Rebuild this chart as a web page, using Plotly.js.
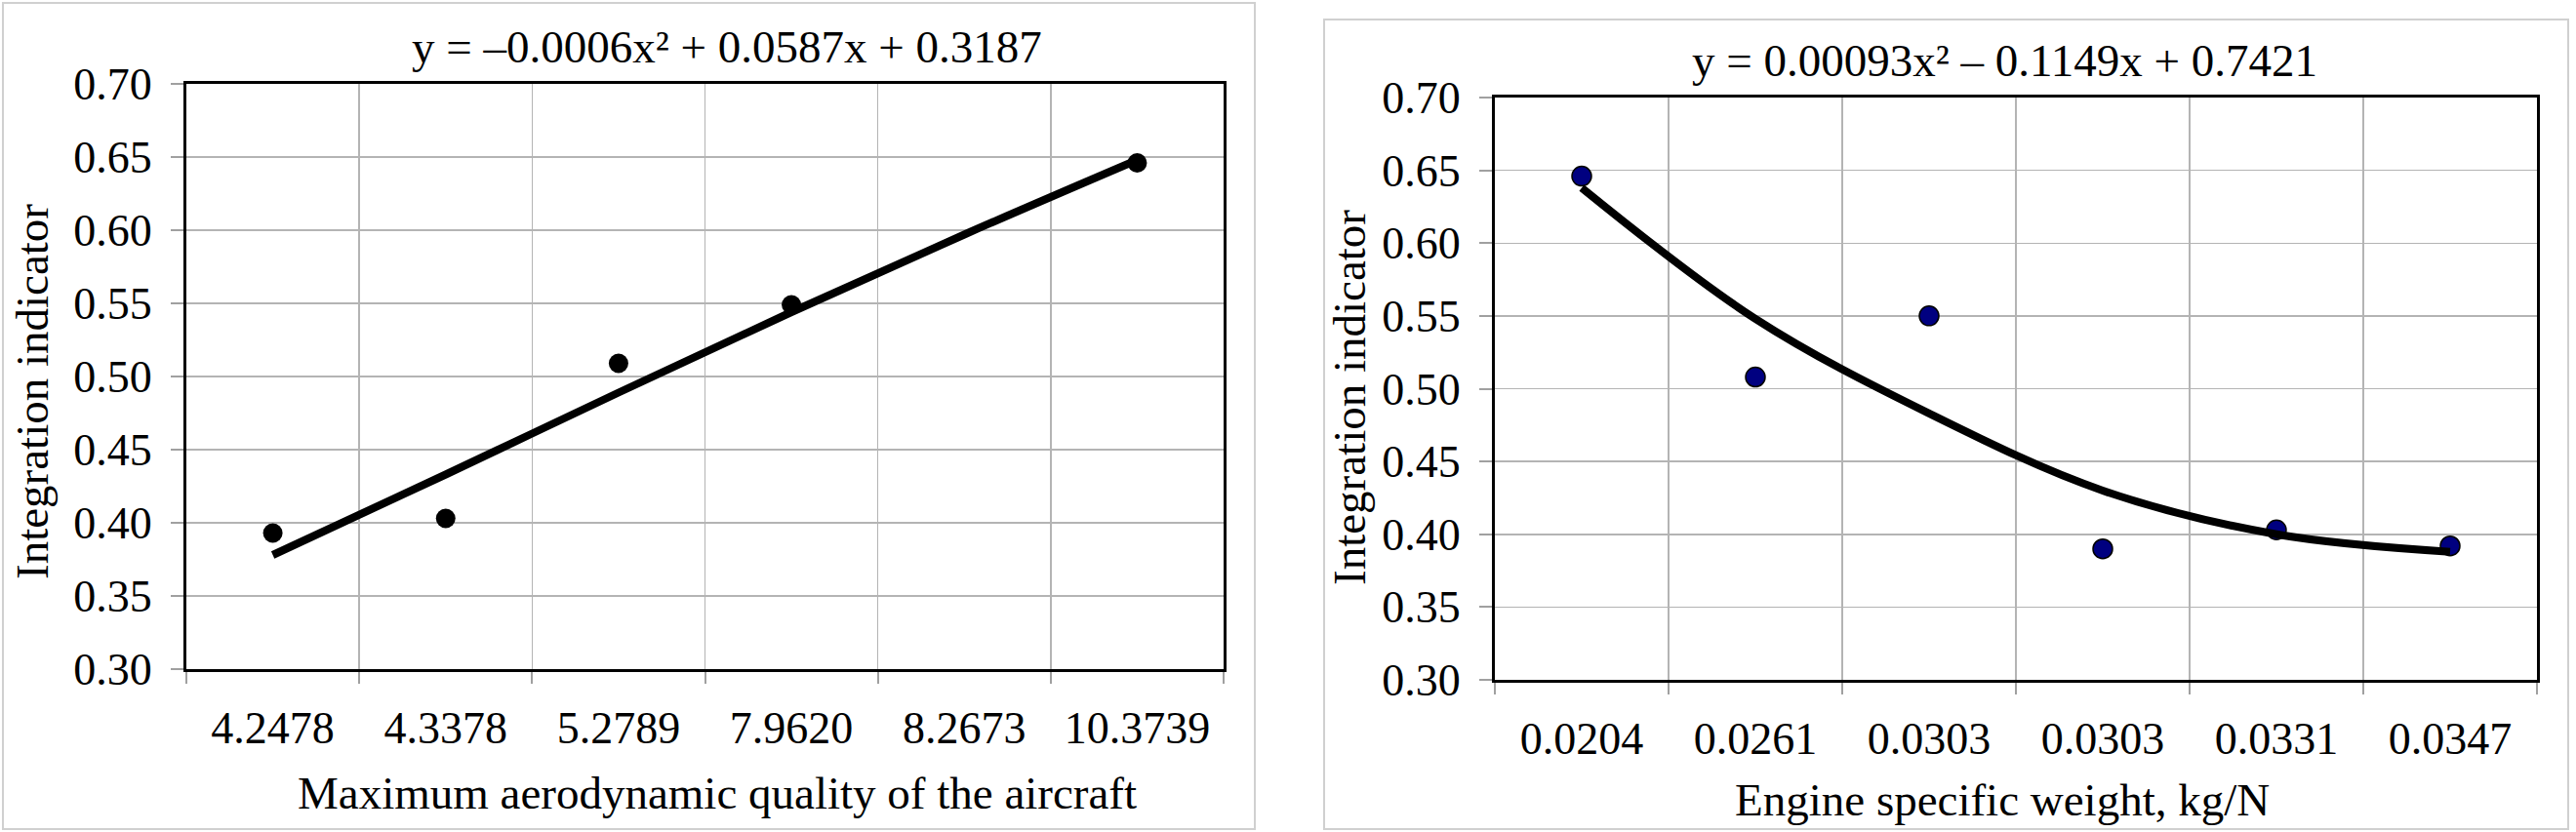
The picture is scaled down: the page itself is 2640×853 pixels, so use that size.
<!DOCTYPE html>
<html>
<head>
<meta charset="utf-8">
<script src="https://cdn.plot.ly/plotly-3.0.1.min.js"></script>
<style>html,body{margin:0;padding:0;background:#fff;}</style>
</head>
<body>
<div id="chart" style="width:2640px;height:853px"></div>
<script>
// ---- data ----
const leftCategories = ['4.2478', '4.3378', '5.2789', '7.9620', '8.2673', '10.3739'];
const leftValues = [0.393, 0.403, 0.509, 0.549, null, 0.646];
const leftTrend = [0.378, 0.433, 0.489, 0.544, 0.597, 0.648];

const rightCategories = ['0.0204', '0.0261', '0.0303', '0.0303', '0.0331', '0.0347'];
const rightValues = [0.646, 0.508, 0.550, 0.390, 0.403, 0.392];
const rightTrend = [0.638, 0.548, 0.483, 0.430, 0.400, 0.388];

const yTicks = [0.30, 0.35, 0.40, 0.45, 0.50, 0.55, 0.60, 0.65, 0.70];

const leftEquation = 'y = –0.0006x² + 0.0587x + 0.3187';
const rightEquation = 'y = 0.00093x² – 0.1149x + 0.7421';
const leftXTitle = 'Maximum aerodynamic quality of the aircraft';
const rightXTitle = 'Engine specific weight, kg/N';
const yTitle = 'Integration indicator';

// ---- styling ----
const FONT = '"Liberation Serif", "Times New Roman", serif';
const W = 2640, H = 853;
const px = v => v / W;
const py = v => 1 - v / H;
const GRID = '#b4b4b4';
const TICKC = '#a0a0a0';

function pos(cats) { return cats.map((c, i) => i + 1); }
function bounds(cats) { return cats.map((c, i) => i + 0.5).concat([cats.length + 0.5]); }

function xAxis(domain, cats, anchor) {
  return {
    domain: domain, anchor: anchor, type: 'linear',
    range: [0.5, cats.length + 0.5], fixedrange: true,
    tickmode: 'array', tickvals: pos(cats), ticktext: cats,
    ticks: '', showgrid: false, zeroline: false,
    showline: true, mirror: true, linecolor: '#000', linewidth: 3,
    tickfont: { family: FONT, size: 46, color: '#000' },
    ticklabelstandoff: 18,
    minor: {
      tickmode: 'array', tickvals: bounds(cats),
      ticks: 'outside', ticklen: 12, tickwidth: 2, tickcolor: TICKC,
      showgrid: true, gridcolor: GRID, gridwidth: 1.5
    }
  };
}
function yAxis(domain, anchor) {
  return {
    domain: domain, anchor: anchor, type: 'linear',
    range: [yTicks[0], yTicks[yTicks.length - 1]], fixedrange: true,
    tickmode: 'array', tickvals: yTicks, ticktext: yTicks.map(v => v.toFixed(2)),
    ticks: 'outside', ticklen: 13, tickwidth: 2, tickcolor: TICKC,
    showgrid: true, gridcolor: GRID, gridwidth: 1.5, zeroline: false,
    showline: true, mirror: true, linecolor: '#000', linewidth: 3,
    tickfont: { family: FONT, size: 46, color: '#000' },
    ticklabelstandoff: 10
  };
}

const traces = [
  { x: pos(leftCategories), y: leftValues, xaxis: 'x', yaxis: 'y', type: 'scatter', mode: 'markers',
    marker: { size: 20, color: '#000' }, cliponaxis: false, name: 'data' },
  { x: pos(leftCategories), y: leftTrend, xaxis: 'x', yaxis: 'y', type: 'scatter', mode: 'lines',
    line: { color: '#000', width: 8, shape: 'spline' }, name: 'trend' },
  { x: pos(rightCategories), y: rightValues, xaxis: 'x2', yaxis: 'y2', type: 'scatter', mode: 'markers',
    marker: { size: 20, color: '#000080', line: { color: '#000', width: 1.5 } }, cliponaxis: false, name: 'data' },
  { x: pos(rightCategories), y: rightTrend, xaxis: 'x2', yaxis: 'y2', type: 'scatter', mode: 'lines',
    line: { color: '#000', width: 8, shape: 'spline' }, name: 'trend' }
];

const layout = {
  width: W, height: H,
  margin: { l: 0, r: 0, t: 0, b: 0 },
  paper_bgcolor: '#fff', plot_bgcolor: '#fff',
  showlegend: false,
  font: { family: FONT, color: '#000' },
  xaxis: xAxis([px(191), px(1254)], leftCategories, 'y'),
  yaxis: yAxis([py(686), py(86)], 'x'),
  xaxis2: xAxis([px(1532), px(2600)], rightCategories, 'y2'),
  yaxis2: yAxis([py(697), py(100)], 'x2'),
  shapes: [
    { type: 'rect', xref: 'paper', yref: 'paper', x0: px(3), x1: px(1286), y0: py(850), y1: py(3),
      line: { color: '#d0d0d0', width: 2 }, layer: 'below' },
    { type: 'rect', xref: 'paper', yref: 'paper', x0: px(1357), x1: px(2632), y0: py(850), y1: py(20),
      line: { color: '#d0d0d0', width: 2 }, layer: 'below' }
  ],
  annotations: [
    { text: leftEquation, xref: 'paper', yref: 'paper', x: px(745), y: py(48), xanchor: 'center', yanchor: 'middle',
      showarrow: false, font: { family: FONT, size: 47, color: '#000' } },
    { text: rightEquation, xref: 'paper', yref: 'paper', x: px(2054), y: py(62), xanchor: 'center', yanchor: 'middle',
      showarrow: false, font: { family: FONT, size: 47, color: '#000' } },
    { text: leftXTitle, xref: 'paper', yref: 'paper', x: px(735), y: py(813), xanchor: 'center', yanchor: 'middle',
      showarrow: false, font: { family: FONT, size: 47, color: '#000' } },
    { text: rightXTitle, xref: 'paper', yref: 'paper', x: px(2052), y: py(820), xanchor: 'center', yanchor: 'middle',
      showarrow: false, font: { family: FONT, size: 47, color: '#000' } },
    { text: yTitle, xref: 'paper', yref: 'paper', x: px(33), y: py(402), xanchor: 'center', yanchor: 'middle',
      textangle: -90, showarrow: false, font: { family: FONT, size: 47, color: '#000' } },
    { text: yTitle, xref: 'paper', yref: 'paper', x: px(1383), y: py(407), xanchor: 'center', yanchor: 'middle',
      textangle: -90, showarrow: false, font: { family: FONT, size: 47, color: '#000' } }
  ]
};

Plotly.newPlot('chart', traces, layout, { staticPlot: true, displayModeBar: false });
</script>
</body>
</html>
